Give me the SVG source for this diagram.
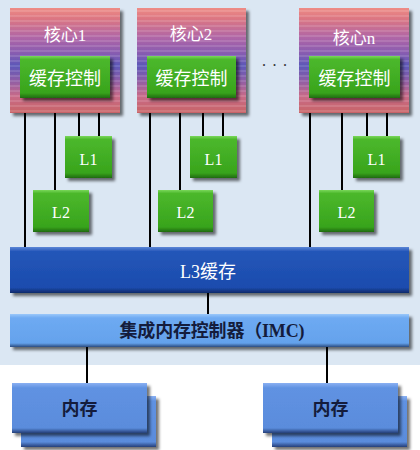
<svg xmlns="http://www.w3.org/2000/svg" width="420" height="450" viewBox="0 0 420 450">
<defs>
<linearGradient id="coreG" x1="0" y1="0" x2="0" y2="1">
<stop offset="0" stop-color="#ee8c86"/>
<stop offset="0.1" stop-color="#dc7682"/>
<stop offset="0.28" stop-color="#b066a6"/>
<stop offset="0.42" stop-color="#8a5cb0"/>
<stop offset="0.55" stop-color="#5c58b8"/>
<stop offset="0.68" stop-color="#8a5ca8"/>
<stop offset="0.84" stop-color="#c86a88"/>
<stop offset="1" stop-color="#c86466"/>
</linearGradient>
<pattern id="stripes" width="4" height="5" patternUnits="userSpaceOnUse">
<rect width="4" height="2" fill="#ffffff" fill-opacity="0.12"/>
</pattern>
<linearGradient id="greenG" x1="0" y1="0" x2="0" y2="1">
<stop offset="0" stop-color="#7ad85a"/>
<stop offset="0.08" stop-color="#4cb82c"/>
<stop offset="0.88" stop-color="#38a41c"/>
<stop offset="1" stop-color="#1f6a10"/>
</linearGradient>
<linearGradient id="l3G" x1="0" y1="0" x2="0" y2="1">
<stop offset="0" stop-color="#5a86d6"/>
<stop offset="0.1" stop-color="#2356b8"/>
<stop offset="0.88" stop-color="#1c4cae"/>
<stop offset="1" stop-color="#0e2a6a"/>
</linearGradient>
<linearGradient id="imcG" x1="0" y1="0" x2="0" y2="1">
<stop offset="0" stop-color="#9ac8fa"/>
<stop offset="0.12" stop-color="#6eaaf2"/>
<stop offset="0.88" stop-color="#64a2ec"/>
<stop offset="1" stop-color="#2a4c80"/>
</linearGradient>
<linearGradient id="memG" x1="0" y1="0" x2="0" y2="1">
<stop offset="0" stop-color="#8ab0f2"/>
<stop offset="0.1" stop-color="#6092e2"/>
<stop offset="0.9" stop-color="#5a8cdc"/>
<stop offset="1" stop-color="#243e78"/>
</linearGradient>
<filter id="sh" x="-10%" y="-10%" width="130%" height="140%">
<feDropShadow dx="3" dy="3" stdDeviation="1.5" flood-color="#000" flood-opacity="0.55"/>
</filter>
</defs>
<style>
.core{fill:url(#coreG);filter:url(#sh)}
.str{fill:url(#stripes)}
.grn{fill:url(#greenG);filter:url(#sh)}
.wt{fill:#ffffff;font-family:"Liberation Serif","Noto Sans CJK SC",serif;text-anchor:middle}
.dk{fill:#141c3c;font-family:"Liberation Serif","Noto Sans CJK SC",serif;text-anchor:middle;font-weight:bold}
.ln{stroke:#000;stroke-width:2;fill:none}
</style>
<rect x="0" y="0" width="420" height="365" fill="#dbe7f3"/>
<rect x="0" y="365" width="420" height="85" fill="#ffffff"/>

<g id="connectors">
<line class="ln" x1="25" y1="112" x2="25" y2="248"/>
<line class="ln" x1="55" y1="97" x2="55" y2="190"/>
<line class="ln" x1="79" y1="97" x2="79" y2="136"/>
<line class="ln" x1="99" y1="97" x2="99" y2="136"/>
<line class="ln" x1="150" y1="112" x2="150" y2="248"/>
<line class="ln" x1="180" y1="97" x2="180" y2="190"/>
<line class="ln" x1="203" y1="97" x2="203" y2="136"/>
<line class="ln" x1="223" y1="97" x2="223" y2="136"/>
<line class="ln" x1="310" y1="112" x2="310" y2="248"/>
<line class="ln" x1="342" y1="97" x2="342" y2="190"/>
<line class="ln" x1="367" y1="97" x2="367" y2="136"/>
<line class="ln" x1="387" y1="97" x2="387" y2="136"/>
<line class="ln" x1="208" y1="293" x2="208" y2="315"/>
<line class="ln" x1="87" y1="347" x2="87" y2="383"/>
<line class="ln" x1="327" y1="347" x2="327" y2="383"/>
</g>

<g id="core1">
<rect class="core" x="10" y="8" width="110" height="105"/>
<rect class="str" x="10" y="8" width="110" height="105"/>
<text class="wt" x="65" y="41" font-size="17">核心1</text>
</g>
<g id="cache-ctrl1">
<rect class="grn" x="20" y="56" width="90" height="42"/>
<text class="wt" x="65" y="85" font-size="18">缓存控制</text>
</g>
<g id="l1-1">
<rect class="grn" x="65" y="136" width="47" height="42"/>
<text class="wt" x="88.5" y="165" font-size="16">L1</text>
</g>
<g id="l2-1">
<rect class="grn" x="33" y="190" width="56" height="42"/>
<text class="wt" x="61" y="218" font-size="16">L2</text>
</g>

<g id="core2">
<rect class="core" x="137" y="8" width="109" height="105"/>
<rect class="str" x="137" y="8" width="109" height="105"/>
<text class="wt" x="191" y="40" font-size="17">核心2</text>
</g>
<g id="cache-ctrl2">
<rect class="grn" x="147" y="56" width="89" height="42"/>
<text class="wt" x="191.5" y="85" font-size="18">缓存控制</text>
</g>
<g id="l1-2">
<rect class="grn" x="190" y="136" width="47" height="42"/>
<text class="wt" x="213.5" y="165" font-size="16">L1</text>
</g>
<g id="l2-2">
<rect class="grn" x="158" y="190" width="55" height="42"/>
<text class="wt" x="185.5" y="218" font-size="16">L2</text>
</g>

<g id="ellipsis">
<text x="262" y="66" font-size="16" letter-spacing="6.5" fill="#333" font-family="Liberation Serif, serif">...</text>
</g>

<g id="coren">
<rect class="core" x="299" y="8" width="110" height="105"/>
<rect class="str" x="299" y="8" width="110" height="105"/>
<text class="wt" x="354" y="44" font-size="17">核心n</text>
</g>
<g id="cache-ctrln">
<rect class="grn" x="309" y="56" width="91" height="42"/>
<text class="wt" x="354.5" y="85" font-size="18">缓存控制</text>
</g>
<g id="l1-n">
<rect class="grn" x="353" y="136" width="47" height="42"/>
<text class="wt" x="376.5" y="165" font-size="16">L1</text>
</g>
<g id="l2-n">
<rect class="grn" x="319" y="190" width="55" height="42"/>
<text class="wt" x="346.5" y="218" font-size="16">L2</text>
</g>

<g id="l3">
<rect x="10" y="247" width="399" height="46" fill="url(#l3G)" filter="url(#sh)"/>
<text class="wt" x="208" y="278" font-size="18">L3缓存</text>
</g>

<g id="imc">
<rect x="10" y="314" width="399" height="33" fill="url(#imcG)" filter="url(#sh)"/>
<text class="dk" x="212" y="337" font-size="18" textLength="185" lengthAdjust="spacing">集成内存控制器（IMC)</text>
</g>

<g id="mem1">
<rect x="21" y="396" width="135" height="51" fill="url(#memG)" filter="url(#sh)"/>
<rect x="12" y="383" width="135" height="50" fill="url(#memG)" filter="url(#sh)"/>
<text class="dk" x="79.5" y="415" font-size="18">内存</text>
</g>

<g id="mem2">
<rect x="272" y="396" width="135" height="51" fill="url(#memG)" filter="url(#sh)"/>
<rect x="263" y="383" width="135" height="50" fill="url(#memG)" filter="url(#sh)"/>
<text class="dk" x="330.5" y="415" font-size="18">内存</text>
</g>
</svg>
